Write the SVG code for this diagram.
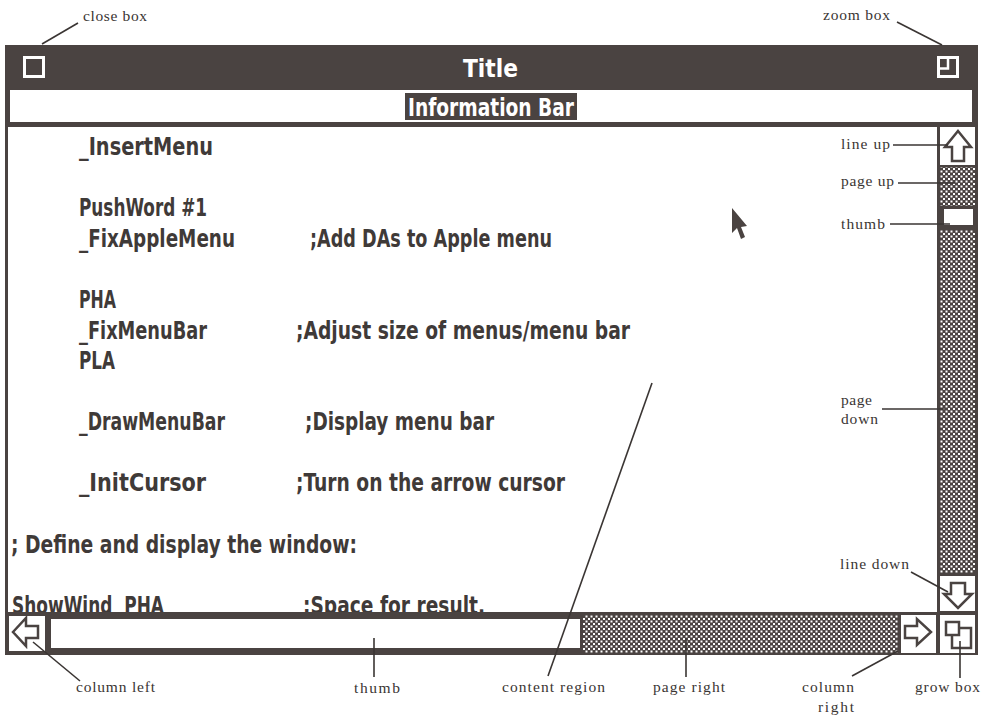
<svg xmlns="http://www.w3.org/2000/svg" width="982" height="717" viewBox="0 0 982 717">
<style>
.dark{fill:#4a4341}
.white{fill:#ffffff}
.code{font-family:"DejaVu Sans Condensed","DejaVu Sans",sans-serif;font-weight:bold;font-size:25.5px;fill:#3f3a38}
.wtxt{font-family:"DejaVu Sans Condensed","DejaVu Sans",sans-serif;font-weight:bold;font-size:25px;fill:#ffffff}
.lbl{font-family:"Liberation Serif",serif;font-size:15.5px;fill:#3a3533}
.arrow{fill:#ffffff;stroke:#4a4341;stroke-width:2.5;stroke-linejoin:miter}
.conn{stroke:#3a3533;stroke-width:1.6;fill:none}
</style>
<defs>
<pattern id="dither" width="5" height="5" patternUnits="userSpaceOnUse">
<rect width="5" height="5" fill="#4a4341"/>
<rect x="0.5" y="0.5" width="2" height="2" fill="#ffffff"/>
<rect x="3" y="3" width="2" height="2" fill="#ffffff"/>
</pattern>
</defs>
<rect width="982" height="717" fill="#ffffff"/>

<g id="window-frame">
<rect x="5" y="88" width="973" height="39" class="dark"/>
<rect x="10" y="90" width="962" height="32" class="white"/>
<rect x="5" y="125" width="3" height="490" class="dark"/>
</g>

<g id="content-region">
<text class="code" x="79" y="155" textLength="134" lengthAdjust="spacingAndGlyphs">_InsertMenu</text>
<text class="code" x="79" y="216" textLength="128" lengthAdjust="spacingAndGlyphs">PushWord #1</text>
<text class="code" x="79" y="247" textLength="156" lengthAdjust="spacingAndGlyphs">_FixAppleMenu</text>
<text class="code" x="310" y="247" textLength="242" lengthAdjust="spacingAndGlyphs">;Add DAs to Apple menu</text>
<text class="code" x="79" y="308" textLength="37" lengthAdjust="spacingAndGlyphs">PHA</text>
<text class="code" x="79" y="339" textLength="128" lengthAdjust="spacingAndGlyphs">_FixMenuBar</text>
<text class="code" x="296" y="339" textLength="334" lengthAdjust="spacingAndGlyphs">;Adjust size of menus/menu bar</text>
<text class="code" x="79" y="369" textLength="36" lengthAdjust="spacingAndGlyphs">PLA</text>
<text class="code" x="79" y="430" textLength="146" lengthAdjust="spacingAndGlyphs">_DrawMenuBar</text>
<text class="code" x="305" y="430" textLength="189" lengthAdjust="spacingAndGlyphs">;Display menu bar</text>
<text class="code" x="79" y="491" textLength="127" lengthAdjust="spacingAndGlyphs">_InitCursor</text>
<text class="code" x="296" y="491" textLength="269" lengthAdjust="spacingAndGlyphs">;Turn on the arrow cursor</text>
<text class="code" x="11" y="553" textLength="346" lengthAdjust="spacingAndGlyphs">; Define and display the window:</text>
<text class="code" x="12" y="614" textLength="152" lengthAdjust="spacingAndGlyphs" xml:space="preserve" style="white-space:pre">ShowWind  PHA</text>
<text class="code" x="303" y="614" textLength="182" lengthAdjust="spacingAndGlyphs">;Space for result.</text>
<polygon class="dark" points="732,208 732,233 737,228 741,239 745,237 741,227 747,226"/>
</g>

<g id="title-bar">
<rect x="5" y="45" width="973" height="44" class="dark"/>
<text class="wtxt" x="463" y="77" textLength="55" lengthAdjust="spacingAndGlyphs">Title</text>
</g>

<g id="close-box">
<rect x="24.5" y="57.5" width="19" height="19" fill="none" stroke="#ffffff" stroke-width="3"/>
</g>

<g id="zoom-box">
<rect x="938.5" y="57.5" width="19" height="19" fill="none" stroke="#ffffff" stroke-width="3"/>
<path d="M938.5,68.5 H948 V57.5" fill="none" stroke="#ffffff" stroke-width="2.5"/>
</g>

<g id="information-bar">
<rect x="405" y="93" width="172" height="27" class="dark"/>
<text class="wtxt" x="408" y="116" textLength="166" lengthAdjust="spacingAndGlyphs">Information Bar</text>
</g>

<g id="vertical-scroll-bar">
<rect x="937" y="125" width="41" height="490" class="dark"/>
<rect x="940" y="127" width="35" height="38" class="white"/>
<rect x="940" y="167" width="35" height="406" fill="url(#dither)"/>
<rect x="940" y="576" width="35" height="35" class="white"/>
</g>

<g id="line-up">
<polygon class="arrow" points="958,131 971,147 964,147 964,161 952,161 952,147 945,147"/>
</g>

<g id="thumb-vertical">
<rect x="940" y="206" width="35" height="24" class="dark"/>
<rect x="944" y="209" width="29" height="16" class="white"/>
</g>

<g id="line-down">
<polygon class="arrow" points="951,583 965,583 965,594 972,594 958,608 944,594 951,594"/>
</g>

<g id="horizontal-scroll-bar">
<rect x="5" y="612" width="973" height="43" class="dark"/>
<rect x="9" y="616" width="36" height="35" class="white"/>
<rect x="583" y="615" width="315" height="38" fill="url(#dither)"/>
<rect x="901" y="615" width="35" height="38" class="white"/>
</g>

<g id="column-left">
<polygon class="arrow" points="13,632 26,618 26,626 38,626 38,638 26,638 26,646"/>
</g>

<g id="thumb-horizontal">
<rect x="51" y="619" width="529" height="29" class="white"/>
</g>

<g id="column-right">
<polygon class="arrow" points="905,626 917,626 917,619 931,632 917,645 917,638 905,638"/>
</g>

<g id="grow-box">
<rect x="940" y="615" width="35" height="38" class="white"/>
<rect x="952" y="628" width="19" height="20" fill="none" stroke="#4a4341" stroke-width="2.5"/>
<rect x="946" y="622" width="13" height="13" fill="#ffffff" stroke="#4a4341" stroke-width="2.5"/>
</g>

<g id="connectors">
<line class="conn" x1="42" y1="44" x2="78" y2="23"/>
<line class="conn" x1="897" y1="22" x2="942" y2="45"/>
<line class="conn" x1="893" y1="145" x2="948" y2="145"/>
<line class="conn" x1="898" y1="183" x2="955" y2="183"/>
<line class="conn" x1="890" y1="224" x2="950" y2="224"/>
<line class="conn" x1="882" y1="409" x2="945" y2="409"/>
<line class="conn" x1="911" y1="572" x2="948" y2="592"/>
<line class="conn" x1="33" y1="642" x2="80" y2="681"/>
<line class="conn" x1="374" y1="638" x2="374" y2="677"/>
<line class="conn" x1="548" y1="676" x2="652" y2="383"/>
<line class="conn" x1="686" y1="638" x2="686" y2="677"/>
<line class="conn" x1="852" y1="676" x2="898" y2="651"/>
<line class="conn" x1="960" y1="641" x2="960" y2="678"/>
</g>

<g id="labels">
<text class="lbl" x="83" y="21" textLength="64" lengthAdjust="spacing">close box</text>
<text class="lbl" x="823" y="20" textLength="67" lengthAdjust="spacing">zoom box</text>
<text class="lbl" x="841" y="149" textLength="49" lengthAdjust="spacing">line up</text>
<text class="lbl" x="841" y="186" textLength="53" lengthAdjust="spacing">page up</text>
<text class="lbl" x="841" y="229" textLength="44" lengthAdjust="spacing">thumb</text>
<text class="lbl" x="841" y="405" textLength="31" lengthAdjust="spacing">page</text>
<text class="lbl" x="841" y="424" textLength="37" lengthAdjust="spacing">down</text>
<text class="lbl" x="840" y="569" textLength="69" lengthAdjust="spacing">line down</text>
<text class="lbl" x="76" y="692" textLength="79" lengthAdjust="spacing">column left</text>
<text class="lbl" x="354" y="693" textLength="46" lengthAdjust="spacing">thumb</text>
<text class="lbl" x="502" y="692" textLength="103" lengthAdjust="spacing">content region</text>
<text class="lbl" x="653" y="692" textLength="72" lengthAdjust="spacing">page right</text>
<text class="lbl" x="802" y="692" textLength="52" lengthAdjust="spacing">column</text>
<text class="lbl" x="818" y="712" textLength="36" lengthAdjust="spacing">right</text>
<text class="lbl" x="915" y="692" textLength="65" lengthAdjust="spacing">grow box</text>
</g>
</svg>
